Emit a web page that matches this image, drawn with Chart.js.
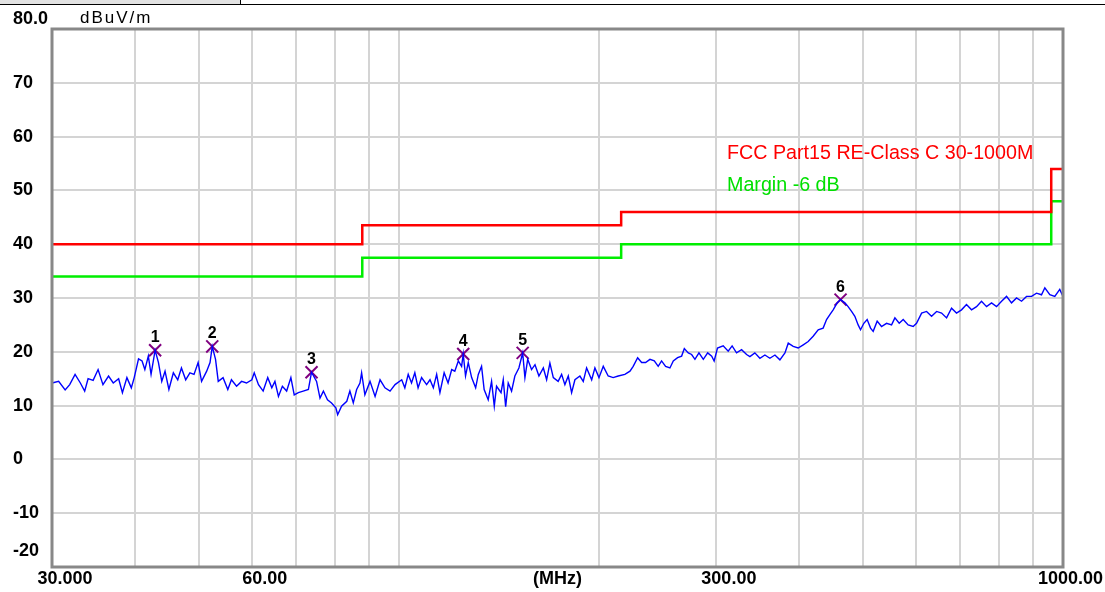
<!DOCTYPE html>
<html>
<head>
<meta charset="utf-8">
<script src="https://cdn.jsdelivr.net/npm/chart.js@4.4.1/dist/chart.umd.min.js"></script>
<style>
html, body { margin: 0; padding: 0; background: #fff; overflow: hidden; }
#wrap { position: relative; width: 1105px; height: 592px; }
#topline { position: absolute; left: 0; top: 0; width: 1105px; height: 4px; border-bottom: 1px solid #000; }
#tab { position: absolute; left: 0; top: 0; width: 240px; height: 4px; background: #e2e2e2; border-right: 1px solid #000; }
canvas { position: absolute; left: 0; top: 0; }
</style>
</head>
<body>
<div id="wrap">
  <canvas id="emission" width="1105" height="592"></canvas>
  <div id="topline"></div>
  <div id="tab"></div>
</div>
<script>
// measured trace, frequency in MHz / level in dBuV/m
var freqMHz = [
  30.0, 30.7, 31.4, 31.9, 32.5, 33.1, 33.6, 34.0, 34.6, 35.2, 35.8, 36.5, 37.1, 37.8, 38.3, 38.9, 39.5, 39.9, 40.5, 41.0,
  41.4, 41.9, 42.3, 42.9, 43.4, 43.9, 44.4, 45.0, 45.7, 46.4, 47.0, 47.7, 48.4, 49.1, 49.8, 50.4, 51.3, 51.9, 52.3, 52.9,
  53.4, 54.3, 55.2, 55.9, 56.9, 57.9, 58.9, 60.0, 60.5, 61.4, 62.4, 63.4, 64.3, 65.0, 65.8, 66.7, 67.7, 68.7, 69.5, 70.5,
  71.7, 73.0, 73.8, 75.1, 76.0, 76.9, 78.0, 79.1, 80.3, 80.8, 81.9, 83.4, 84.3, 85.3, 86.3, 87.3, 87.8, 88.8, 90.4, 92.0,
  93.6, 95.2, 96.9, 98.6,
  100.9, 102.0, 103.2, 104.4, 105.6, 106.8, 108.1, 110.0, 111.3, 112.6, 113.9, 115.2, 116.9, 118.5, 120.0, 121.3, 122.8, 124.2, 124.9, 125.9,
  127.1, 128.6, 130.4, 131.6, 133.1, 134.3, 136.2, 137.8, 139.1, 140.2, 142.4, 143.5, 144.7, 146.0, 147.7, 149.4, 151.5, 153.5, 154.7, 156.2,
  158.3, 160.2, 162.4, 164.9, 166.8, 168.7, 170.7, 173.6, 175.7, 177.7, 179.8, 181.9, 184.0, 187.2, 189.4, 191.6, 195.0, 197.2, 200.0, 203.0,
  206.5, 210.1, 213.8, 218.8, 222.7, 225.2, 228.7, 231.9, 235.1, 238.7, 242.3, 245.6, 248.5, 252.0, 255.8, 258.8, 262.7, 266.4, 268.9, 272.6,
  275.8, 279.0, 282.9, 287.2, 291.6, 295.7, 298.2, 301.7, 307.7, 313.1, 317.4, 322.3, 328.0, 333.7,
  337.6, 343.4, 349.5, 355.6, 361.8, 368.2, 374.6, 381.2, 385.6, 392.3, 399.1, 406.2, 413.2, 420.4, 427.8, 435.2, 440.4, 445.5, 450.6, 456.9,
  462.3, 469.3, 474.6, 480.3, 485.8, 491.4, 495.5, 501.2, 507.0, 513.0, 517.7, 524.9, 532.9, 542.3, 551.8, 558.2, 566.6, 574.5, 584.5, 594.7,
  601.7, 612.4, 623.0, 633.9, 645.1, 656.3, 667.8, 679.4, 691.2, 703.3, 715.5, 728.2, 740.9, 753.8, 767.1, 780.5, 794.1, 808.1, 822.2, 836.5,
  851.2, 866.1, 881.2, 896.7, 912.3, 928.2, 938.9, 955.3, 971.9, 988.8, 1000
];
var levelDbuV = [
  14.2, 14.5, 12.9, 13.9, 15.8, 14.2, 12.7, 15.0, 14.7, 16.7, 13.9, 15.5, 14.2, 15.0, 12.4, 15.2, 13.3, 15.2, 18.7, 18.3,
  16.7, 19.2, 15.8, 20.3, 18.0, 14.5, 16.4, 13.0, 16.1, 14.8, 17.0, 14.8, 16.1, 15.8, 18.0, 14.5, 16.4, 18.0, 21.0, 18.6,
  14.5, 15.2, 13.0, 14.8, 13.6, 14.5, 14.2, 14.8, 16.1, 13.9, 12.7, 15.2, 13.3, 14.5, 11.7, 13.6, 12.7, 15.2, 12.0, 12.4,
  12.7, 13.0, 16.2, 14.5, 11.4, 12.7, 11.1, 10.5, 9.6, 8.3, 9.9, 10.8, 12.7, 10.5, 13.0, 14.2, 16.1, 12.0, 14.5, 11.7,
  14.8, 13.3, 12.7, 13.9,
  14.8, 13.3, 15.8, 14.2, 16.1, 13.3, 15.2, 13.9, 14.8, 13.3, 15.8, 12.4, 16.1, 14.2, 16.7, 16.4, 18.3, 17.3, 19.6, 15.5,
  18.0, 15.2, 13.3, 15.8, 17.3, 13.0, 11.1, 14.5, 9.9, 13.6, 12.4, 14.8, 9.8, 14.2, 12.7, 15.5, 17.0, 19.8, 15.2, 18.6,
  16.7, 17.6, 15.5, 17.0, 14.8, 17.9, 15.2, 14.5, 15.8, 13.9, 15.5, 12.4, 14.8, 15.5, 14.5, 17.0, 14.8, 17.0, 15.2, 17.3,
  15.5, 15.2, 15.5, 15.8, 16.4, 17.3, 18.9, 18.0, 18.0, 18.6, 18.3, 17.3, 18.3, 17.3, 17.0, 18.3, 18.9, 19.2, 20.6, 19.8,
  19.5, 18.6, 19.8, 18.6, 19.8, 19.2, 18.3, 20.7, 21.1, 20.1, 21.1, 19.8, 20.4, 19.5,
  19.1, 19.8, 18.8, 19.4, 18.8, 19.4, 18.5, 19.8, 21.6, 21.0, 20.7, 21.3, 21.9, 22.9, 24.1, 24.4, 26.0, 26.9, 27.8, 29.1,
  29.7, 29.1, 28.4, 27.5, 26.6, 25.0, 24.1, 25.3, 26.0, 24.4, 23.8, 25.7, 24.7, 25.3, 25.0, 26.3, 25.3, 26.0, 25.0, 24.7,
  25.3, 27.2, 27.5, 26.6, 27.5, 27.2, 26.3, 28.1, 27.2, 27.8, 28.8, 27.8, 28.4, 29.4, 28.4, 29.1, 28.4, 29.4, 30.3, 29.1,
  30.0, 29.4, 30.3, 30.3, 30.9, 30.6, 31.9, 30.6, 30.3, 31.6, 30.3
];

// peak markers
var markerFreq = [42.9, 52.3, 73.8, 124.9, 153.5, 462.3];
var markerLevel = [20.3, 21.0, 16.2, 19.6, 19.8, 29.7];

// limit line (step starts) and the -6 dB margin
var limitFreq = [30, 88, 216, 960, 1000];
var limitLevel = [40, 43.5, 46, 54, 54];
var marginLevel = [34, 37.5, 40, 48, 48];

var xGridValues = [30, 40, 50, 60, 70, 80, 90, 100, 200, 300, 400, 500, 600, 700, 800, 900, 1000];
var xLabelValues = [30, 60, 300, 1000];
var xLabelText = ["30.000", "60.00", "300.00", "1000.00"];

var FONT = "'Liberation Sans', Arial, sans-serif";

function toPoints(xs, ys) {
  return xs.map(function (x, i) { return { x: x, y: ys[i] }; });
}

var frame = {
  id: "frame",
  afterDraw: function (chart) {
    var c = chart.ctx, a = chart.chartArea;
    var xs = chart.scales.x;
    c.save();
    c.strokeStyle = "#888";
    c.lineWidth = 3;
    c.strokeRect(a.left, a.top, a.right - a.left, a.bottom - a.top);

    // marker numbers
    var meta = chart.getDatasetMeta(3);
    c.fillStyle = "#000";
    c.font = "bold 16px " + FONT;
    c.textAlign = "center";
    c.textBaseline = "alphabetic";
    meta.data.forEach(function (p, i) {
      c.fillText(String(i + 1), p.x, p.y - 8);
    });

    // y unit, top and bottom values (kept inside the frame like the original)
    c.textAlign = "left";
    c.textBaseline = "middle";
    c.font = "bold 18px " + FONT;
    c.fillText("80.0", 13, 19);
    c.fillText("-20", 13, 551);
    c.font = "17px " + FONT;
    c.letterSpacing = "2px";
    c.fillText("dBuV/m", 80, 18);
    c.letterSpacing = "0px";

    // x labels
    c.font = "bold 18px " + FONT;
    c.textAlign = "center";
    xLabelValues.forEach(function (v, i) {
      var w = c.measureText(xLabelText[i]).width;
      var px = xs.getPixelForValue(v) + 13;
      if (px + w / 2 > chart.width - 2) px = chart.width - 2 - w / 2;
      c.fillText(xLabelText[i], px, 579);
    });
    c.fillText("(MHz)", (a.left + a.right) / 2, 579);

    // legend
    c.textAlign = "left";
    c.font = "19.7px " + FONT;
    c.fillStyle = "#ff0000";
    c.fillText("FCC Part15 RE-Class C 30-1000M", 727, 154);
    c.fillStyle = "#00e000";
    c.fillText("Margin -6 dB", 727, 186);
    c.restore();
  }
};

var gridStyle = { color: "#d4d4d4", lineWidth: 2, drawTicks: false };

var emissionChart = new Chart(document.getElementById("emission"), {
  type: "scatter",
  data: {
    datasets: [{
      label: "FCC Part15 RE-Class C 30-1000M",
      data: toPoints(limitFreq, limitLevel),
      showLine: true,
      stepped: true,
      borderColor: "#ff0000",
      borderWidth: 2.5,
      pointRadius: 0
    }, {
      label: "Margin -6 dB",
      data: toPoints(limitFreq, marginLevel),
      showLine: true,
      stepped: true,
      borderColor: "#00ee00",
      borderWidth: 2.5,
      pointRadius: 0
    }, {
      label: "Trace",
      data: toPoints(freqMHz, levelDbuV),
      showLine: true,
      borderColor: "#0000ff",
      borderWidth: 1.4,
      pointRadius: 0,
      tension: 0
    }, {
      label: "Peaks",
      data: toPoints(markerFreq, markerLevel),
      showLine: false,
      pointStyle: "crossRot",
      pointRadius: 8.5,
      borderColor: "#800080",
      borderWidth: 2
    }]
  },
  options: {
    responsive: false,
    animation: false,
    layout: { padding: { left: 13, top: 29, right: 42, bottom: 0 } },
    plugins: { legend: { display: false }, tooltip: { enabled: false } },
    scales: {
      x: {
        type: "logarithmic",
        min: 30,
        max: 1000,
        afterBuildTicks: function (s) { s.ticks = xGridValues.map(function (v) { return { value: v }; }); },
        afterFit: function (s) { s.height = 25; },
        ticks: { display: false },
        grid: gridStyle,
        border: { display: false }
      },
      y: {
        min: -20,
        max: 80,
        afterFit: function (s) { s.width = 39; },
        ticks: {
          stepSize: 10,
          crossAlign: "far",
          padding: 0,
          color: "#000",
          font: { family: FONT, size: 18, weight: "bold" },
          callback: function (v) { return (v === 80 || v === -20) ? "" : v; }
        },
        grid: gridStyle,
        border: { display: false }
      }
    }
  },
  plugins: [frame]
});
</script>
</body>
</html>
